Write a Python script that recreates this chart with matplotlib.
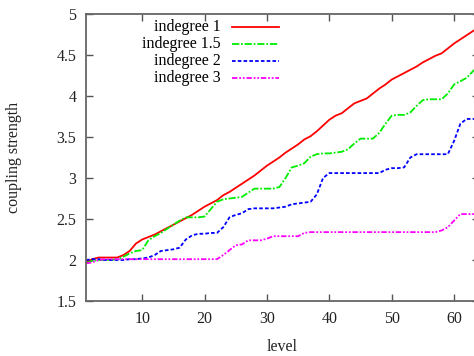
import matplotlib
matplotlib.use("Agg")
from matplotlib import pyplot as plt
import numpy as np

levels = np.arange(1, 65)

# indegree 1
red = [1.97, 2.01, 2.03, 2.03, 2.03, 2.03, 2.06, 2.11, 2.20, 2.25,
       2.28, 2.31, 2.35, 2.39, 2.43, 2.47, 2.51, 2.55, 2.60, 2.65,
       2.69, 2.73, 2.79, 2.83, 2.88, 2.93, 2.98, 3.03, 3.09, 3.15,
       3.20, 3.25, 3.31, 3.36, 3.41, 3.47, 3.51, 3.57, 3.64, 3.71,
       3.76, 3.79, 3.85, 3.91, 3.94, 3.97, 4.03, 4.09, 4.14, 4.20,
       4.24, 4.28, 4.32, 4.36, 4.41, 4.45, 4.49, 4.52, 4.58, 4.64,
       4.69, 4.74, 4.79, 4.84]

# indegree 1.5
green = [1.96, 1.99, 2.00, 2.00, 2.00, 2.01, 2.04, 2.08, 2.11, 2.12,
         2.24, 2.29, 2.33, 2.38, 2.43, 2.48, 2.52, 2.52, 2.52, 2.53,
         2.62, 2.71, 2.74, 2.75, 2.76, 2.77, 2.82, 2.87, 2.87, 2.87,
         2.87, 2.89, 3.00, 3.13, 3.15, 3.18, 3.26, 3.29, 3.30, 3.30,
         3.31, 3.32, 3.35, 3.42, 3.48, 3.48, 3.48, 3.55, 3.66, 3.76,
         3.77, 3.77, 3.80, 3.88, 3.95, 3.96, 3.96, 3.96, 4.03, 4.14,
         4.18, 4.22, 4.30, 4.37]

# indegree 2
blue = [2.00, 2.01, 2.01, 2.00, 2.00, 2.00, 2.00, 2.01, 2.01, 2.02,
        2.03, 2.06, 2.11, 2.12, 2.13, 2.15, 2.25, 2.30, 2.32, 2.32,
        2.33, 2.33, 2.40, 2.52, 2.55, 2.57, 2.62, 2.63, 2.63, 2.63,
        2.63, 2.64, 2.65, 2.68, 2.69, 2.70, 2.71, 2.80, 3.00, 3.06,
        3.06, 3.06, 3.06, 3.06, 3.06, 3.06, 3.06, 3.06, 3.10, 3.12,
        3.12, 3.13, 3.25, 3.29, 3.29, 3.29, 3.29, 3.29, 3.29, 3.45,
        3.66, 3.72, 3.72, 3.72]

# indegree 3
magenta = [1.96, 1.97, 2.00, 2.01, 2.01, 2.01, 2.01, 2.01, 2.01, 2.01,
           2.01, 2.01, 2.01, 2.01, 2.01, 2.01, 2.01, 2.01, 2.01, 2.01,
           2.01, 2.01, 2.06, 2.12, 2.18, 2.19, 2.24, 2.24, 2.24, 2.26,
           2.29, 2.29, 2.29, 2.29, 2.29, 2.33, 2.34, 2.34, 2.34, 2.34,
           2.34, 2.34, 2.34, 2.34, 2.34, 2.34, 2.34, 2.34, 2.34, 2.34,
           2.34, 2.34, 2.34, 2.34, 2.34, 2.34, 2.34, 2.36, 2.40, 2.48,
           2.56, 2.56, 2.56, 2.56]

labels = ["indegree 1", "indegree 1.5", "indegree 2", "indegree 3"]
colors = ["#ff0000", "#00ee00", "#0000ff", "#ff00ff"]
dashes = [None, (4, 1, 1, 1), (2, 1.2), (3, 1, 1, 1, 1, 1)]

plt.rcParams['font.family'] = ['Liberation Serif', 'DejaVu Serif']
plt.rcParams['font.size'] = 11.5

fig = plt.figure(figsize=(4.74, 3.56), dpi=100)
ax = fig.add_axes([86 / 474, 55 / 356, 393 / 474, 287 / 356])

series = [red, green, blue, magenta]
# legend rows in axes fraction (gnuplot style: text right, sample on right)
leg_y = [0.955, 0.895, 0.836, 0.777]
for vals, lab, col, d, ly in zip(series, labels, colors, dashes, leg_y):
    line, = ax.plot(levels, vals, color=col, lw=1.3)
    sample, = ax.plot([0.372, 0.491], [ly, ly], color=col, lw=1.3,
                      transform=ax.transAxes, clip_on=False)
    if d is not None:
        line.set_dashes(d)
        sample.set_dashes(d)
    ax.text(0.342, ly, lab, transform=ax.transAxes, ha='right', va='center')

ax.set_xlim(1, 64)
ax.set_ylim(1.5, 5)
ax.set_xticks([10, 20, 30, 40, 50, 60])
ax.set_yticks([1.5, 2, 2.5, 3, 3.5, 4, 4.5, 5])
ax.set_yticklabels(["1.5", "2", "2.5", "3", "3.5", "4", "4.5", "5"])
ax.tick_params(direction='in', top=True, right=True, length=5,
               width=1, color='#555555', pad=7, labelcolor='#222222')
for sp in ax.spines.values():
    sp.set_color('#666666')
    sp.set_linewidth(1.3)

ax.set_xlabel("level", color='#222222')
ax.set_ylabel("coupling strength", color='#222222')
ax.xaxis.set_label_coords(0.5, -0.132)
ax.yaxis.set_label_coords(-0.163, 0.5)

fig.savefig("out.png", dpi=100)
